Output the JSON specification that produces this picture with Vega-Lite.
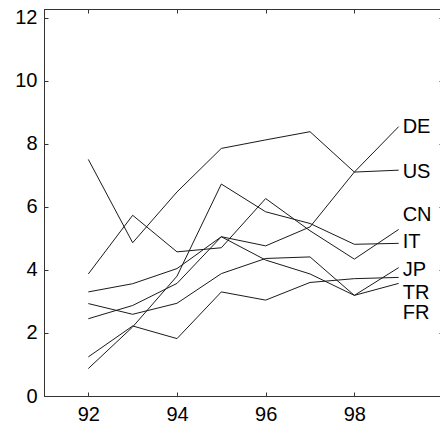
{
  "$schema": "https://vega.github.io/schema/vega-lite/v6.json",
  "width": 399,
  "height": 387,
  "autosize": {"type": "none"},
  "padding": {"left": 44, "top": 9, "right": 0, "bottom": 34},
  "background": "white",
  "config": {
    "view": {"stroke": "#333", "strokeWidth": 1},
    "font": "Liberation Sans",
    "axis": {
      "grid": false,
      "domainColor": "#333",
      "tickColor": "#333",
      "tickSize": -4,
      "labelColor": "black",
      "labelFont": "Liberation Sans",
      "labelFontSize": 20,
      "title": null
    }
  },
  "datasets": {
    "series": [
      {"country": "DE", "year": 92, "value": 3.30}, {"country": "DE", "year": 93, "value": 3.56}, {"country": "DE", "year": 94, "value": 4.04}, {"country": "DE", "year": 95, "value": 5.05},
      {"country": "DE", "year": 96, "value": 4.76}, {"country": "DE", "year": 97, "value": 5.36}, {"country": "DE", "year": 98, "value": 7.10}, {"country": "DE", "year": 99, "value": 8.54},
      {"country": "US", "year": 92, "value": 7.50}, {"country": "US", "year": 93, "value": 4.86}, {"country": "US", "year": 94, "value": 6.47}, {"country": "US", "year": 95, "value": 7.85},
      {"country": "US", "year": 96, "value": 8.12}, {"country": "US", "year": 97, "value": 8.38}, {"country": "US", "year": 98, "value": 7.10}, {"country": "US", "year": 99, "value": 7.16},
      {"country": "CN", "year": 92, "value": 3.87}, {"country": "CN", "year": 93, "value": 5.73}, {"country": "CN", "year": 94, "value": 4.57}, {"country": "CN", "year": 95, "value": 4.70},
      {"country": "CN", "year": 96, "value": 6.26}, {"country": "CN", "year": 97, "value": 5.24}, {"country": "CN", "year": 98, "value": 4.34}, {"country": "CN", "year": 99, "value": 5.28},
      {"country": "IT", "year": 92, "value": 0.87}, {"country": "IT", "year": 93, "value": 2.19}, {"country": "IT", "year": 94, "value": 3.80}, {"country": "IT", "year": 95, "value": 6.72},
      {"country": "IT", "year": 96, "value": 5.84}, {"country": "IT", "year": 97, "value": 5.47}, {"country": "IT", "year": 98, "value": 4.81}, {"country": "IT", "year": 99, "value": 4.84},
      {"country": "JP", "year": 92, "value": 2.93}, {"country": "JP", "year": 93, "value": 2.59}, {"country": "JP", "year": 94, "value": 2.94}, {"country": "JP", "year": 95, "value": 3.88},
      {"country": "JP", "year": 96, "value": 4.36}, {"country": "JP", "year": 97, "value": 4.41}, {"country": "JP", "year": 98, "value": 3.19}, {"country": "JP", "year": 99, "value": 4.07},
      {"country": "TR", "year": 92, "value": 1.24}, {"country": "TR", "year": 93, "value": 2.22}, {"country": "TR", "year": 94, "value": 1.82}, {"country": "TR", "year": 95, "value": 3.30},
      {"country": "TR", "year": 96, "value": 3.04}, {"country": "TR", "year": 97, "value": 3.60}, {"country": "TR", "year": 98, "value": 3.72}, {"country": "TR", "year": 99, "value": 3.76},
      {"country": "FR", "year": 92, "value": 2.45}, {"country": "FR", "year": 93, "value": 2.87}, {"country": "FR", "year": 94, "value": 3.57}, {"country": "FR", "year": 95, "value": 5.05},
      {"country": "FR", "year": 96, "value": 4.31}, {"country": "FR", "year": 97, "value": 3.87}, {"country": "FR", "year": 98, "value": 3.19}, {"country": "FR", "year": 99, "value": 3.57}
    ],
    "labels": [
      {"country": "DE", "year": 99, "labelAt": 8.54},
      {"country": "US", "year": 99, "labelAt": 7.11},
      {"country": "CN", "year": 99, "labelAt": 5.74},
      {"country": "IT", "year": 99, "labelAt": 4.89},
      {"country": "JP", "year": 99, "labelAt": 3.99},
      {"country": "TR", "year": 99, "labelAt": 3.26},
      {"country": "FR", "year": 99, "labelAt": 2.62}
    ]
  },
  "layer": [
    {
      "data": {"name": "series"},
      "mark": {"type": "line", "stroke": "#1a1a1a", "strokeWidth": 1},
      "encoding": {
        "x": {"field": "year", "type": "quantitative",
              "scale": {"domain": [91, 100], "nice": false, "zero": false},
              "axis": {"orient": "bottom", "values": [92, 94, 96, 98], "labelPadding": 12, "labelFlush": false}},
        "y": {"field": "value", "type": "quantitative",
              "scale": {"domain": [0, 12.27], "nice": false, "zero": false},
              "axis": {"orient": "left", "values": [0, 2, 4, 6, 8, 10, 12], "labelPadding": 11, "labelFlush": false}},
        "detail": {"field": "country"}
      }
    },
    {
      "data": {"name": "labels"},
      "mark": {"type": "text", "align": "left", "baseline": "middle", "dx": 4, "fontSize": 20, "font": "Liberation Sans", "color": "black"},
      "encoding": {
        "x": {"field": "year", "type": "quantitative",
              "scale": {"domain": [91, 100], "nice": false, "zero": false},
              "axis": {"orient": "top", "values": [92, 94, 96, 98, 100], "labels": false}},
        "y": {"field": "labelAt", "type": "quantitative",
              "scale": {"domain": [0, 12.27], "nice": false, "zero": false},
              "axis": {"orient": "right", "values": [0, 2, 4, 6, 8, 10, 12], "labels": false}},
        "text": {"field": "country"}
      }
    }
  ],
  "resolve": {"axis": {"x": "independent", "y": "independent"}}
}
